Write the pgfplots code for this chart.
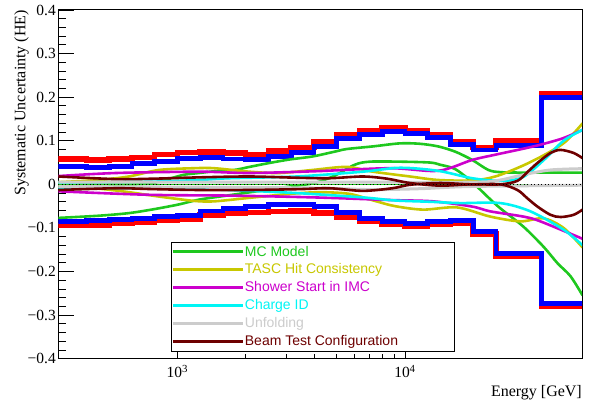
\documentclass[border=0pt]{standalone}
\usepackage{pgfplots}
\pgfplotsset{compat=1.18}
\usepackage{fontspec}
\setmainfont{Liberation Serif}
\newfontfamily\legendfont{Liberation Sans}
\usetikzlibrary{calc}
\definecolor{mcgreen}{RGB}{30,200,30}
\definecolor{tascyellow}{RGB}{200,200,0}
\definecolor{imcmag}{RGB}{204,0,204}
\definecolor{chcyan}{RGB}{0,245,245}
\definecolor{unfgrey}{RGB}{204,204,204}
\definecolor{beambrown}{RGB}{110,0,0}
\newcommand{\LE}[2]{\makebox[210pt][l]{\textcolor{#1}{#2}}}
\begin{document}
\begin{tikzpicture}
\begin{axis}[
  scale only axis, width=524pt, height=349pt,
  xmode=log, xmin=300, xmax=60000,
  ymin=-0.4, ymax=0.4,
  xtick={1000,10000}, xticklabels={10\textsuperscript{3},10\textsuperscript{4}},
  ytick={-0.4,-0.3,-0.2,-0.1,0,0.1,0.2,0.3,0.4},
  yticklabels={−0.4,−0.3,−0.2,−0.1,0,0.1,0.2,0.3,0.4},
  minor y tick num=4,
  tick align=inside, xtick pos=bottom, ytick pos=left,
  major tick length=16pt, minor tick length=8pt,
  xtick style={/pgfplots/major tick length=10pt,/pgfplots/minor tick length=5pt},
  axis line style={line width=1pt},
  tick style={line width=0.9pt, black},
  ticklabel style={font=\fontsize{15.5}{16}\selectfont},
  yticklabel style={inner sep=0pt, xshift=-2.5pt},
  xticklabel style={inner sep=0pt, yshift=-6pt},
  legend cell align=left,
  legend style={at={(0.2147,0.3352)}, anchor=north west, draw=black, line width=0.8pt,
    inner xsep=0pt, inner ysep=0.5pt, row sep=0pt, column sep=0pt, fill=white,
    nodes={inner sep=0pt, minimum height=18pt, anchor=west, font=\legendfont\fontsize{14}{16}\selectfont}},
  legend image code/.code={\path (0pt,0pt) -- (70.7pt,0pt); \draw[#1] (10.7pt,0pt) -- (59pt,0pt);},
]
\coordinate (ll) at (rel axis cs:0,0);
\coordinate (ur) at (rel axis cs:1,1);
% total uncertainty histograms
\addplot[const plot, red, line width=5.5pt, forget plot] coordinates {
(200,0.058) (398.1,0.056) (501.2,0.058) (631,0.062) (794.3,0.069) (1000,0.073) (1258.9,0.0745) (1584.9,0.0716) (1995.3,0.069) (2511.9,0.077) (3162.3,0.084) (3981.1,0.098) (5011.9,0.114) (6309.6,0.124) (7943.3,0.129) (10000,0.123) (12589,0.114) (15849,0.0975) (19953,0.085) (25119,0.10) (31623,0.10) (39811,0.207) (70000,0.207)};
\addplot[const plot, red, line width=5.5pt, forget plot] coordinates {
(200,-0.095) (398.1,-0.093) (501.2,-0.090) (631,-0.087) (794.3,-0.083) (1000,-0.080) (1258.9,-0.070) (1584.9,-0.067) (1995.3,-0.0646) (2511.9,-0.0623) (3162.3,-0.061) (3981.1,-0.066) (5011.9,-0.075) (6309.6,-0.0837) (7943.3,-0.092) (10000,-0.097) (12589,-0.091) (15849,-0.089) (19953,-0.114) (25119,-0.166) (31623,-0.166) (39811,-0.279) (70000,-0.279)};
\addplot[const plot, blue, line width=4.8pt, forget plot] coordinates {
(200,0.041) (398.1,0.039) (501.2,0.041) (631,0.047) (794.3,0.052) (1000,0.059) (1258.9,0.061) (1584.9,0.058) (1995.3,0.057) (2511.9,0.064) (3162.3,0.073) (3981.1,0.087) (5011.9,0.105) (6309.6,0.115) (7943.3,0.121) (10000,0.117) (12589,0.108) (15849,0.091) (19953,0.079) (25119,0.09) (31623,0.09) (39811,0.200) (70000,0.200)};
\addplot[const plot, blue, line width=4.8pt, forget plot] coordinates {
(200,-0.085) (398.1,-0.083) (501.2,-0.080) (631,-0.0776) (794.3,-0.074) (1000,-0.0715) (1258.9,-0.061) (1584.9,-0.0546) (1995.3,-0.051) (2511.9,-0.047) (3162.3,-0.0455) (3981.1,-0.0516) (5011.9,-0.064) (6309.6,-0.0776) (7943.3,-0.086) (10000,-0.090) (12589,-0.085) (15849,-0.083) (19953,-0.108) (25119,-0.159) (31623,-0.159) (39811,-0.274) (70000,-0.274)};
% zero lines
\addplot[mcgreen, line width=1.5pt, forget plot] coordinates {(300,0) (60000,0)};
% MC model
\addplot[smooth, mcgreen, line width=2.6pt] coordinates {
(300,-0.077) (451,-0.072) (612,-0.066) (789,-0.057) (1017,-0.046) (1246,-0.035) (1690,-0.025) (2293,-0.015) (3110,-0.005) (4009,0.003) (4912,0.02) (6020,0.045) (7009,0.052) (9506,0.052) (12890,0.05) (14270,0.045) (16620,0.035) (19750,0.005) (23240,-0.03) (26240,-0.055) (33150,-0.097) (40620,-0.143) (46830,-0.181) (53440,-0.211) (60370,-0.255)};
\addlegendentry{\LE{mcgreen}{MC Model}}
\addplot[smooth, mcgreen, line width=2.6pt, forget plot] coordinates {
(300,0) (612,0) (750,0.002) (830,0.006) (938,0.014) (1070,0.022) (1246,0.026) (1452,0.03) (1779,0.033) (2072,0.04) (2538,0.049) (3110,0.057) (3928,0.064) (4912,0.075) (5549,0.081) (7226,0.087) (9506,0.094) (11650,0.093) (13980,0.087) (16620,0.075) (19750,0.056) (23240,0.033) (26240,0.028) (32160,0.027) (60370,0.027)};
% TASC
\addplot[smooth, tascyellow, line width=2.6pt] coordinates {
(300,0.005) (451,0.01) (612,0.018) (830,0.033) (1185,0.037) (1452,0.037) (2072,0.029) (2810,0.026) (3928,0.033) (5549,0.04) (7226,0.029) (10520,0.018) (13980,0.01) (19750,0.009) (24950,0.018) (33000,0.043) (42500,0.072) (50800,0.098) (60370,0.14)};
\addlegendentry{\LE{tascyellow}{TASC Hit Consistency}}
\addplot[smooth, tascyellow, line width=2.6pt, forget plot] coordinates {
(300,-0.005) (451,-0.01) (612,-0.018) (830,-0.028) (1185,-0.038) (1452,-0.039) (2072,-0.031) (3110,-0.022) (4217,-0.018) (5720,-0.022) (7374,-0.038) (9035,-0.05) (12010,-0.058) (16960,-0.053) (23710,-0.074) (32160,-0.085) (40620,-0.078) (49780,-0.1) (60370,-0.145)};
% IMC
\addplot[smooth, imcmag, line width=2.6pt] coordinates {
(300,0.019) (537,0.026) (1246,0.029) (2072,0.026) (4000,0.03) (8587,0.037) (13980,0.031) (19750,0.056) (24950,0.068) (36700,0.087) (49000,0.105) (60370,0.125)};
\addlegendentry{\LE{imcmag}{Shower Start in IMC}}
\addplot[smooth, imcmag, line width=2.6pt, forget plot] coordinates {
(300,-0.016) (750,-0.024) (1779,-0.026) (4000,-0.03) (8587,-0.036) (13290,-0.039) (19750,-0.051) (23710,-0.062) (33150,-0.074) (39400,-0.085) (60370,-0.125)};
% Charge ID
\addplot[smooth, chcyan, line width=2.6pt] coordinates {
(300,0.004) (750,0.006) (1246,0.01) (1690,0.014) (3340,0.018) (6527,0.029) (9506,0.038) (13980,0.031) (19750,0.014) (26240,0.008) (32820,0.016) (40620,0.055) (49780,0.1) (60370,0.125)};
\addlegendentry{\LE{chcyan}{Charge ID}}
\addplot[smooth, chcyan, line width=2.6pt, forget plot] coordinates {
(300,-0.008) (750,-0.009) (1246,-0.011) (1690,-0.013) (3340,-0.02) (6527,-0.03) (9035,-0.037) (12890,-0.04) (17480,-0.043) (26240,-0.043) (35600,-0.062) (49780,-0.104) (60370,-0.14)};
% Unfolding
\addplot[smooth, unfgrey, line width=3pt] coordinates {
(300,0.005) (5000,0.005) (20000,0.005) (26240,0.01) (33150,0.022) (43610,0.033) (60370,0.036)};
\addlegendentry{\LE{unfgrey}{Unfolding}}
\addplot[smooth, unfgrey, line width=3pt, forget plot] coordinates {
(300,-0.005) (3442,-0.008) (7000,-0.012) (11650,-0.01) (19350,-0.005) (60370,-0.002)};
% Beam test
\addplot[smooth, beambrown, line width=2.6pt] coordinates {
(300,0.018) (537,0.012) (789,0.013) (1246,0.016) (2072,0.018) (3442,0.015) (4669,0.014) (6527,0.018) (8329,0.013) (10520,0.003) (14270,-0.003) (19350,0.0) (26240,0.0) (31200,0.008) (34500,0.028) (38220,0.049) (43610,0.072) (48290,0.079) (55080,0.072) (60370,0.06)};
\addlegendentry{\LE{beambrown}{Beam Test Configuration}}
\addplot[smooth, beambrown, line width=2.6pt, forget plot] coordinates {
(300,-0.013) (537,-0.009) (789,-0.011) (1246,-0.013) (2072,-0.013) (3442,-0.011) (4669,-0.009) (6527,-0.015) (8800,-0.009) (10520,-0.001) (14270,0.003) (19350,0.0) (26240,0.0) (31200,-0.013) (34500,-0.032) (38220,-0.051) (43610,-0.07) (48290,-0.075) (55080,-0.07) (60370,-0.058)};
\addplot[black, line width=1pt, dash pattern=on 1pt off 2.5pt, forget plot] coordinates {(300,0) (60000,0)};
\end{axis}
\node[rotate=90, anchor=east, inner sep=0pt, font=\fontsize{16}{18}\selectfont] at ($(ll |- ur)+(-37pt,0)$) {Systematic Uncertainty (HE)};
\node[anchor=base east, inner sep=0pt, font=\fontsize{16}{18}\selectfont] at ($(ur |- ll)+(0,-38pt)$) {Energy [GeV]};
\pgfresetboundingbox
\path ($(ll)+(-58.5pt,-42pt)$) rectangle ($(ur)+(8pt,10pt)$);
\end{tikzpicture}
\end{document}
